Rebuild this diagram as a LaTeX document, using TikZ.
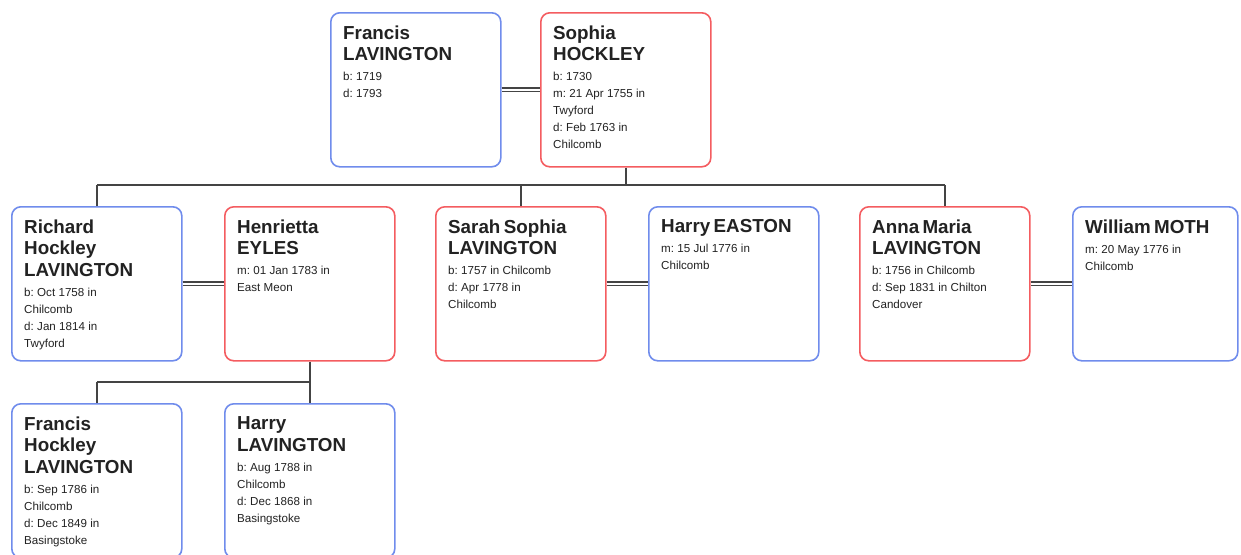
\documentclass[tikz,border=0pt]{standalone}
\usepackage{fontspec}
\setmainfont{Liberation Sans}
\definecolor{mblue}{RGB}{112,140,236}
\definecolor{mred}{RGB}{244,92,96}
\definecolor{ink}{RGB}{34,34,34}
\definecolor{conn}{RGB}{68,68,68}
\tikzset{
  person/.style={line width=1.6pt, rounded corners=9pt, minimum width=170pt,
    minimum height=154pt, inner sep=0pt, fill=white, anchor=north west},
  male/.style={person, draw=mblue},
  female/.style={person, draw=mred},
  info/.style={anchor=north west, inner sep=0pt, text width=152pt, align=left, text=ink},
  marriage/.style={draw=conn, line width=1.3pt, double=white, double distance=2.2pt},
  descent/.style={draw=conn, line width=2pt},
}
\newcommand{\pname}[1]{{\frenchspacing\fontsize{18.8}{21.5}\selectfont\bfseries #1\par}\vspace{3pt}}
\newcommand{\pdet}[1]{{\frenchspacing\fontsize{11.6}{17}\selectfont #1\par}}
\newcommand{\ptext}[3]{\node[info] (#1t) at ([xshift=13pt,yshift=-13.5pt]#1.north west) {\pname{#2}\pdet{#3}};}
\begin{document}
\begin{tikzpicture}[x=1pt,y=-1pt]
\useasboundingbox (0,0) rectangle (1241,554);
\clip (0,0) rectangle (1241,554);
\coordinate (bar1) at (0,185);
\coordinate (bar2) at (0,382);

% boxes
\node[male]   (F1) at (330,12) {};
\node[female] (S1) at (540,12) {};
\node[male]   (R2) at (11,206) {};
\node[female] (H2) at (224,206) {};
\node[female] (Sa2) at (435,206) {};
\node[male]   (HE2) at (648,206) {};
\node[female] (A2) at (859,206) {};
\node[male, minimum width=165pt] (W2) at (1072,206) {};
\node[male]   (FH3) at (11,403) {};
\node[male]   (HL3) at (224,403) {};

% connectors
\draw[marriage] (F1.east) -- (S1.west);
\draw[marriage] (R2.east) -- (H2.west);
\draw[marriage] (Sa2.east) -- (HE2.west);
\draw[marriage] (A2.east) -- (W2.west);

\draw[descent] (S1.south) -- (S1.south |- bar1);
\draw[descent] (R2.north |- bar1) -- (A2.north |- bar1);
\draw[descent] (R2.north |- bar1) -- (R2.north);
\draw[descent] (Sa2.north |- bar1) -- (Sa2.north);
\draw[descent] (A2.north |- bar1) -- (A2.north);

\draw[descent] (H2.south) -- (H2.south |- bar2);
\draw[descent] (FH3.north |- bar2) -- (HL3.north |- bar2);
\draw[descent] (FH3.north |- bar2) -- (FH3.north);
\draw[descent] (HL3.north |- bar2) -- (HL3.north);

% texts
\ptext{F1}{Francis\\LAVINGTON}{b: 1719\\d: 1793}
\ptext{S1}{Sophia\\HOCKLEY}{b: 1730\\m: 21 Apr 1755 in\\Twyford\\d: Feb 1763 in\\Chilcomb}
\ptext{R2}{Richard\\Hockley\\LAVINGTON}{b: Oct 1758 in\\Chilcomb\\d: Jan 1814 in\\Twyford}
\ptext{H2}{Henrietta\\EYLES}{m: 01 Jan 1783 in\\East Meon}
\ptext{Sa2}{Sarah Sophia\\LAVINGTON}{b: 1757 in Chilcomb\\d: Apr 1778 in\\Chilcomb}
\ptext{HE2}{Harry EASTON}{m: 15 Jul 1776 in\\Chilcomb}
\ptext{A2}{Anna Maria\\LAVINGTON}{b: 1756 in Chilcomb\\d: Sep 1831 in Chilton\\Candover}
\ptext{W2}{William MOTH}{m: 20 May 1776 in\\Chilcomb}
\ptext{FH3}{Francis\\Hockley\\LAVINGTON}{b: Sep 1786 in\\Chilcomb\\d: Dec 1849 in\\Basingstoke}
\ptext{HL3}{Harry\\LAVINGTON}{b: Aug 1788 in\\Chilcomb\\d: Dec 1868 in\\Basingstoke}
\end{tikzpicture}
\end{document}
